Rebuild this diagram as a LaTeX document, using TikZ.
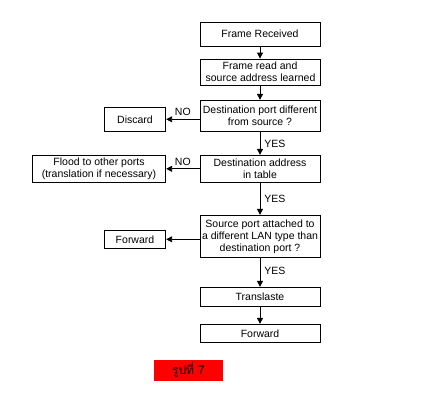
\documentclass[tikz,border=0pt]{standalone}
\usepackage{fontspec}
\setmainfont{Liberation Sans}
\newfontfamily\thaifont[Script=Thai]{Loma}
\usetikzlibrary{arrows.meta}
\begin{document}
\begin{tikzpicture}[x=1pt,y=-1pt,
  every node/.style={font=\fontsize{10.5}{12}\selectfont, inner sep=0pt},
  box/.style={draw, line width=0.9pt, align=center},
  arr/.style={line width=0.9pt, -{Triangle[width=6pt,length=6pt]}},
  lbl/.style={font=\fontsize{10.5}{12}\selectfont}]
\useasboundingbox (0,0) rectangle (422,412);
% main column boxes
\node[box, minimum width=120pt, minimum height=24pt] (b1) at (260,34) {Frame Received};
\node[box, minimum width=120pt, minimum height=26pt] (b2) at (260,72) {Frame read and\\ \hspace*{1pt}source address learned};
\node[box, minimum width=120pt, minimum height=31pt] (b3) at (260,115.8) {Destination port different\\from source ?};
\node[box, minimum width=120pt, minimum height=27pt] (b4) at (260,168.8) {Destination address\\in table};
\node[box, minimum width=120pt, minimum height=42pt] (b5) at (260,236.3) {Source port attached to\\a different LAN type than\\destination port ?};
\node[box, minimum width=120pt, minimum height=19pt] (b6) at (260,296.8) {Translaste};
\node[box, minimum width=120pt, minimum height=18pt] (b7) at (260,333.3) {Forward};
% side boxes
\node[box, minimum width=61.4pt, minimum height=24pt] (d) at (135,119.3) {Discard};
\node[box, minimum width=133.4pt, minimum height=27pt] (f) at (99,168.8) {Flood to other ports\\(translation if necessary)};
\node[box, minimum width=61.4pt, minimum height=18pt] (fw) at (135,239.3) {Forward};
% connectors
\draw[arr] (b1) -- (b2);
\draw[arr] (b2) -- (b3);
\draw[arr] (b3) -- node[lbl, anchor=west, xshift=4pt, yshift=-1pt] {YES} (b4);
\draw[arr] (b4) -- node[lbl, anchor=west, xshift=4pt] {YES} (b5);
\draw[arr] (b5) -- node[lbl, anchor=west, xshift=4pt, yshift=1pt] {YES} (b6);
\draw[arr] (b6) -- (b7);
\draw[arr] (b3.west |- d) -- node[lbl, above=3pt] {NO} (d);
\draw[arr] (b4.west |- f) -- node[lbl, above=3pt] {NO} (f);
\draw[arr] (b5.west |- fw) -- (fw);
% caption
\node[fill=red, minimum width=69pt, minimum height=20.7pt, font=\thaifont\fontsize{12}{12}\selectfont] (cap) at (188.5,370.3) {รูปที่ 7};
\end{tikzpicture}
\end{document}
